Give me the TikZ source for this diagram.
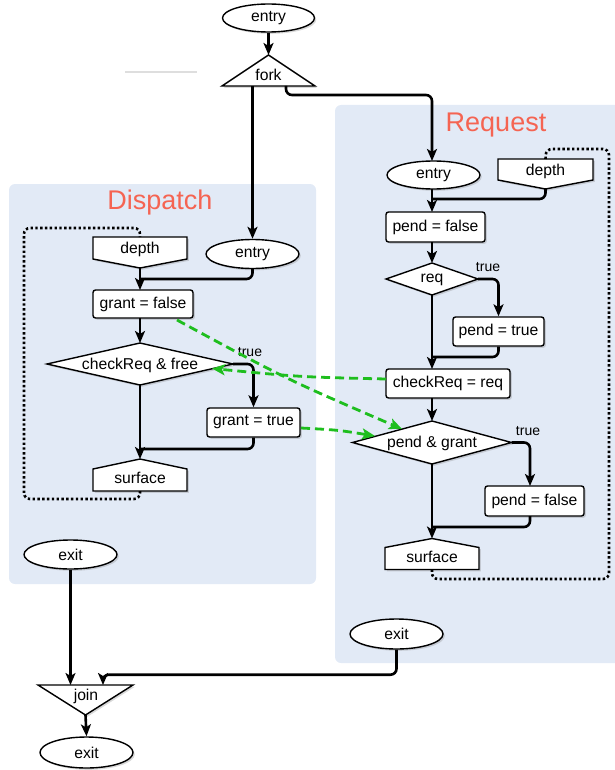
\documentclass[tikz,border=0pt]{standalone}
\usepackage{fontspec}
\setmainfont{Liberation Sans}
\usetikzlibrary{arrows.meta,shadows,calc,shapes.geometric}
\definecolor{panel}{RGB}{226,234,246}
\definecolor{ttl}{RGB}{245,100,82}
\definecolor{grn}{RGB}{30,190,30}
\begin{document}
\begin{tikzpicture}[x=1pt,y=-1pt,
  txt/.style={font=\fontsize{15.7}{18}\selectfont, inner sep=0pt},
  shp/.style={draw=black, fill=white, line width=1.4pt, drop shadow={shadow xshift=1.8pt, shadow yshift=-1.8pt, opacity=0.3}},
  box/.style={shp, rounded corners=2.5pt, txt},
  oval/.style={shp, ellipse, txt, minimum width=93pt, minimum height=29pt},
  bbox/.style={inner sep=0pt, outer sep=0pt},
  flow/.style={line width=2.6pt, rounded corners=6pt, -{Stealth[length=12pt,width=10pt,inset=3pt]}},
  plain/.style={line width=2.6pt, rounded corners=6pt},
  loopline/.style={line width=2.6pt, rounded corners=6pt, dash pattern=on 2.4pt off 2.4pt},
  dep/.style={draw=grn, line width=2.8pt, dash pattern=on 9pt off 5pt, -{Stealth[length=13pt,width=11pt,inset=3pt]}},
  lbl/.style={font=\fontsize{14}{16}\selectfont, inner sep=0pt},
  title/.style={font=\fontsize{27}{30}\selectfont, text=ttl, inner sep=0pt},
]
\useasboundingbox (0,0) rectangle (614,770);
% panels
\fill[panel, rounded corners=6pt] (9,184) rectangle (316,584);
\fill[panel, rounded corners=6pt] (335,105) rectangle (630,663);
\node[title] (tD) at (160,203) {Dispatch};
\node[title] (tR) at (496,125) {Request};
% stray line
\draw[black!13, line width=1.8pt] (125,72) -- (197,72);

% top
\node[oval, minimum width=92pt, minimum height=28pt] (e0) at (268.5,18) {entry};
\node[bbox, minimum width=93pt, minimum height=31pt] (fork) at (268.5,70.5) {};
\draw[shp] (fork.north) -- (fork.south east) -- (fork.south west) -- cycle;
\node[txt] (forkT) at (268.5,75) {fork};
\coordinate (forkR) at (286,86);

% Dispatch
\node[bbox, minimum width=94pt, minimum height=31pt] (dd) at (140,252.5) {};
\draw[shp] (dd.north west) -- (dd.north east) -- ($(dd.north east)+(0,22)$) -- (dd.south) -- ($(dd.north west)+(0,22)$) -- cycle;
\node[txt] (ddT) at (140,249) {depth};
\node[oval] (de) at (252.5,254) {entry};
\node[box, minimum width=100pt, minimum height=28pt] (gf) at (143,304) {grant = false};
\node[bbox, minimum width=186pt, minimum height=42pt] (cf) at (140,364) {};
\draw[shp] (cf.north) -- (cf.east) -- (cf.south) -- (cf.west) -- cycle;
\node[txt] (cfT) at (140,365) {checkReq \& free};
\node[box, minimum width=93pt, minimum height=29pt] (gt) at (253.5,422.5) {grant = true};
\node[bbox, minimum width=94pt, minimum height=32pt] (ds) at (140,475) {};
\draw[shp] (ds.north) -- ($(ds.north east)+(0,10)$) -- (ds.south east) -- (ds.south west) -- ($(ds.north west)+(0,10)$) -- cycle;
\node[txt] (dsT) at (140,478) {surface};
\node[oval] (dx) at (70.5,554.5) {exit};

% Request
\node[oval, minimum height=28pt] (re) at (433.5,175) {entry};
\node[bbox, minimum width=95pt, minimum height=30pt] (rd) at (545.5,174) {};
\draw[shp] (rd.north west) -- (rd.north east) -- ($(rd.north east)+(0,21)$) -- (rd.south) -- ($(rd.north west)+(0,21)$) -- cycle;
\node[txt] (rdT) at (545.5,171) {depth};
\node[box, minimum width=99pt, minimum height=30pt] (pf) at (435.5,227) {pend = false};
\node[bbox, minimum width=92pt, minimum height=32pt] (rq) at (432,279) {};
\draw[shp] (rq.north) -- (rq.east) -- (rq.south) -- (rq.west) -- cycle;
\node[txt] (rqT) at (432,280) {req};
\node[box, minimum width=91pt, minimum height=29pt] (pt) at (498.5,331.5) {pend = true};
\node[box, minimum width=124pt, minimum height=29pt] (cr) at (448,383.5) {checkReq = req};
\node[bbox, minimum width=159pt, minimum height=43pt] (pg) at (432,442.5) {};
\draw[shp] (pg.north) -- (pg.east) -- (pg.south) -- (pg.west) -- cycle;
\node[txt] (pgT) at (432,443) {pend \& grant};
\node[box, minimum width=99pt, minimum height=30pt] (pf2) at (534.5,501) {pend = false};
\node[bbox, minimum width=94pt, minimum height=31pt] (rs) at (432,554) {};
\draw[shp] (rs.north) -- ($(rs.north east)+(0,9)$) -- (rs.south east) -- (rs.south west) -- ($(rs.north west)+(0,9)$) -- cycle;
\node[txt] (rsT) at (432,557) {surface};
\node[oval, minimum height=30pt] (rx) at (396.5,634) {exit};

% join / exit
\node[bbox, minimum width=95pt, minimum height=30pt] (join) at (85.5,700) {};
\draw[shp] (join.north west) -- (join.north east) -- (join.south) -- cycle;
\node[txt] (joinT) at (86,696) {join};
\node[oval, minimum height=31pt] (fx) at (86.5,752.5) {exit};

% top connectors
\draw[flow] (e0.south) -- (fork.north);
\draw[flow] (de.north |- fork.south) -- (de.north);
\draw[flow] (forkR) -- ++(0,9) -| (432,161);

% Dispatch connectors
\draw[plain] (de.south) |- (140,279);
\draw[flow] (dd.south) -- (140,290);
\draw[flow] (140,318) -- (cf.north);
\draw[flow] (cf.east) -| (gt.north);
\node[lbl] (t1) at (250,352) {true};
\draw[plain] (gt.south) |- (140,449);
\draw[flow] (cf.south) -- (ds.north);
\draw[loopline] (ds.south) -- (140,499) -- (24,499) -- (24,228) -- (140,228) -- (dd.north);
\draw[flow] (dx.south) -- (dx.south |- join.north);

% Request connectors
\draw[plain] (rd.south) |- (432,199);
\draw[flow] (432,189) -- (432,212);
\draw[flow] (432,242) -- (rq.north);
\draw[flow] (rq.east) -| (pt.north);
\node[lbl] (t2) at (488,267) {true};
\draw[plain] (pt.south) |- (432,357);
\draw[flow] (rq.south) -- (432,369);
\draw[flow] (432,398) -- (pg.north);
\draw[flow] (pg.east) -| (530,486);
\node[lbl] (t3) at (528,431) {true};
\draw[plain] (530,516) |- (432,527);
\draw[flow] (pg.south) -- (rs.north);
\draw[loopline] (rs.south) -- (432,579) -- (609,579) -- (609,149) -- (546,149) -- (rd.north);
\draw[flow] (rx.south) -- ++(0,25) -| (103,685);
\draw[flow] (join.south) -- (fx.north);

% green dependencies
\coordinate (g1s) at (177,320);
\coordinate (g1e) at (402,429);
\draw[dep] (g1s) .. controls (286,379) .. (g1e);
\coordinate (g2s) at (386,379);
\coordinate (g2e) at (212,368.5);
\draw[dep] (g2s) .. controls (300,377) .. (g2e);
\coordinate (g3s) at (301,428);
\coordinate (g3e) at (375,436);
\draw[dep] (g3s) .. controls (338,430) .. (g3e);
\end{tikzpicture}
\end{document}
